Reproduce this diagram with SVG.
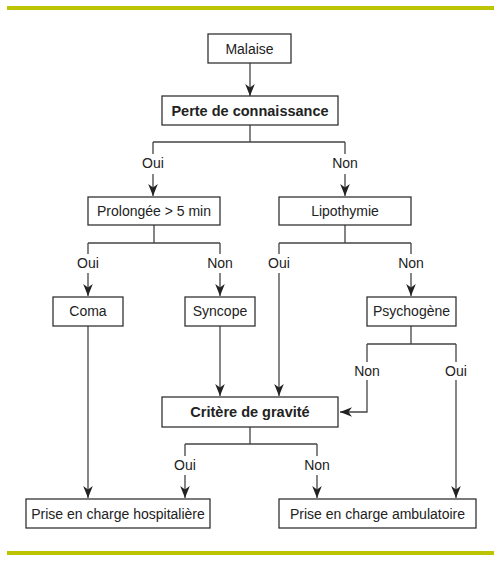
<svg xmlns="http://www.w3.org/2000/svg" width="500" height="561" viewBox="0 0 500 561">
<defs>
<marker id="ah" markerUnits="userSpaceOnUse" markerWidth="14" markerHeight="12" viewBox="0 -6 14 12" refX="12" refY="0" orient="auto">
<path d="M0,-4.8 L12,0 L0,4.8 L3.5,0 z" fill="#222"/>
</marker>
<style>
.box{fill:#fff;stroke:#333;stroke-width:1.3}
.t{font-family:"Liberation Sans",Arial,sans-serif;font-size:14px;fill:#222;text-anchor:middle}
.b{font-weight:bold;font-size:14.5px}
.c{fill:none;stroke:#444;stroke-width:1.3}
.a{marker-end:url(#ah)}
.bar{fill:#bdc400}
</style>
</defs>
<rect class="bar" x="7" y="6" width="487" height="4"/>
<rect class="bar" x="7" y="551" width="487" height="4"/>

<g id="connectors">
<path class="c a" d="M250,63 V96"/>
<path class="c" d="M250,125 V142 M153,142 H345 M153,142 V154 M345,142 V154"/>
<path class="c a" d="M153,174 V196"/>
<path class="c a" d="M345,174 V196"/>
<path class="c" d="M154,225 V243 M88,243 H220 M88,243 V254 M220,243 V254"/>
<path class="c" d="M345,225 V243 M279,243 H411 M279,243 V254 M411,243 V254"/>
<path class="c a" d="M88,273 V296"/>
<path class="c a" d="M220,273 V296"/>
<path class="c a" d="M411,273 V296"/>
<path class="c a" d="M279,273 V396"/>
<path class="c a" d="M220,326 V396"/>
<path class="c" d="M411,326 V344 M367,344 H456 M367,344 V362 M456,344 V362"/>
<path class="c a" d="M367,380 V412 H340"/>
<path class="c a" d="M456,380 V498"/>
<path class="c a" d="M88,326 V498"/>
<path class="c" d="M250,427 V444 M185,444 H317 M185,444 V456 M317,444 V456"/>
<path class="c a" d="M185,475 V498"/>
<path class="c a" d="M317,475 V498"/>
</g>

<g id="labels">
<text class="t" x="153" y="168">Oui</text>
<text class="t" x="345" y="168">Non</text>
<text class="t" x="88" y="268">Oui</text>
<text class="t" x="220" y="268">Non</text>
<text class="t" x="279" y="268">Oui</text>
<text class="t" x="411" y="268">Non</text>
<text class="t" x="367" y="376">Non</text>
<text class="t" x="456" y="376">Oui</text>
<text class="t" x="185" y="470">Oui</text>
<text class="t" x="317" y="470">Non</text>
</g>

<g id="n-malaise"><rect class="box" x="208" y="34" width="83" height="29"/><text class="t" x="249.5" y="54">Malaise</text></g>
<g id="n-perte"><rect class="box" x="162" y="96" width="176" height="29"/><text class="t b" x="250" y="116">Perte de connaissance</text></g>
<g id="n-prolongee"><rect class="box" x="88" y="197" width="132" height="28"/><text class="t" x="154" y="216">Prolongée &gt; 5 min</text></g>
<g id="n-lipothymie"><rect class="box" x="279" y="197" width="132" height="28"/><text class="t" x="345" y="216">Lipothymie</text></g>
<g id="n-coma"><rect class="box" x="53" y="297" width="70" height="29"/><text class="t" x="88" y="316">Coma</text></g>
<g id="n-syncope"><rect class="box" x="185" y="297" width="70" height="29"/><text class="t" x="220" y="316">Syncope</text></g>
<g id="n-psychogene"><rect class="box" x="367" y="297" width="89" height="29"/><text class="t" x="411.5" y="316">Psychogène</text></g>
<g id="n-critere"><rect class="box" x="162" y="397" width="176" height="30"/><text class="t b" x="250" y="417">Critère de gravité</text></g>
<g id="n-hospitaliere"><rect class="box" x="26" y="499" width="184" height="29"/><text class="t" x="118" y="519">Prise en charge hospitalière</text></g>
<g id="n-ambulatoire"><rect class="box" x="279" y="499" width="197" height="29"/><text class="t" x="377.5" y="519">Prise en charge ambulatoire</text></g>
</svg>
